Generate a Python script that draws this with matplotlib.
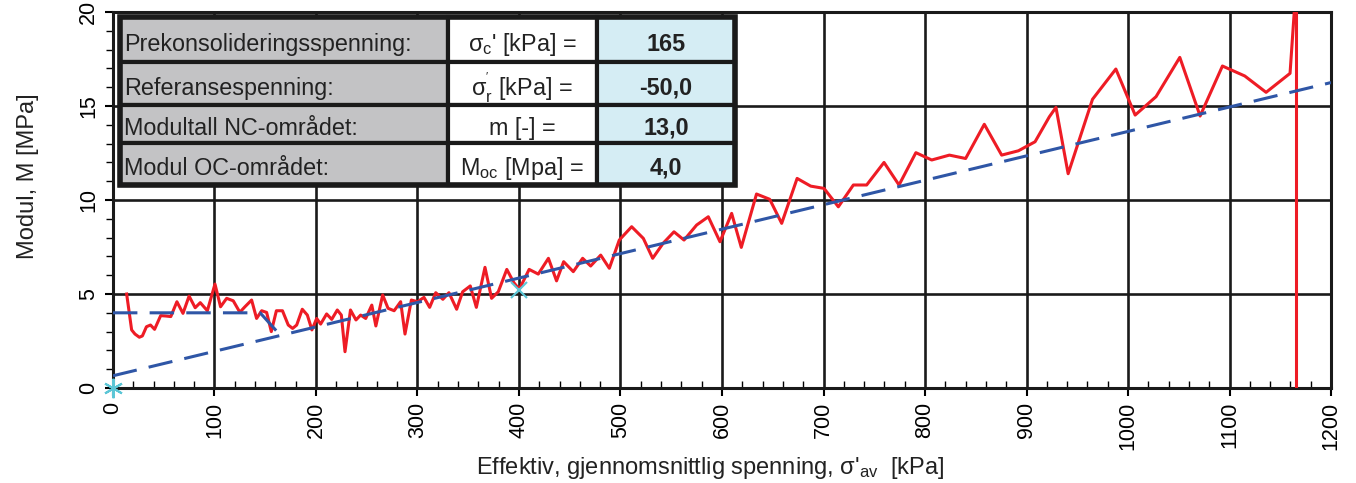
import matplotlib
matplotlib.use("Agg")
import matplotlib.pyplot as plt
from matplotlib.patches import Rectangle
from matplotlib.ticker import MultipleLocator

plt.rcParams['font.family'] = ['Liberation Sans', 'DejaVu Sans']
plt.rcParams['mathtext.default'] = 'regular'

# målte moduler (rød kurve)
sigma_av = [13.5, 18.4, 21.7, 26, 29, 33, 37, 41, 47, 52, 57, 63, 69, 75, 81, 86, 93,
            100.5, 106, 112, 118.5, 125, 130, 136.6, 141.5, 146.5, 151.4, 156, 161, 167,
            172.7, 177, 181, 186.5, 191.5, 196, 200.7, 204.6, 210.5, 215.5, 221, 225,
            228.6, 234, 239.4, 244, 249, 255, 259, 265.7, 271, 277, 283.4, 287.7, 294,
            300, 306.4, 312, 318, 325, 331, 338.6, 344.5, 352, 358, 366.5, 373, 379.6,
            388, 395, 400.3, 410, 419, 429, 437, 444, 453.5, 462.7, 470.6, 480.5, 489,
            498.8, 511, 522.5, 531.7, 542, 552.7, 562.6, 575, 586.5, 598, 609.5, 619,
            634, 647, 658.8, 674, 687.4, 700.5, 714.6, 729.4, 742.5, 759.6, 774.4, 791,
            806.6, 824, 840, 858.4, 875.5, 892, 908.4, 922.5, 929, 941, 965, 988, 1007,
            1027.6, 1051, 1071, 1093, 1115, 1136, 1159.6, 1165]
modul = [5.0, 3.09, 2.87, 2.7, 2.77, 3.26, 3.35, 3.12, 3.85, 3.83, 3.8, 4.59, 3.97, 4.89,
         4.27, 4.54, 4.11, 5.53, 4.32, 4.77, 4.64, 4.03, 4.32, 4.68, 3.7, 4.11, 4.02, 3.0,
         4.11, 4.11, 3.35, 3.17, 3.35, 4.19, 3.88, 3.09, 3.7, 3.4, 3.94, 3.65, 4.15, 3.88,
         1.93, 4.15, 3.62, 3.88, 3.7, 4.41, 3.3, 4.95, 4.24, 4.11, 4.59, 2.87, 4.68, 4.59,
         4.82, 4.29, 5.07, 4.72, 5.07, 4.19, 5.12, 5.43, 4.29, 6.42, 4.77, 5.12, 6.31, 5.6,
         5.25, 6.31, 6.06, 6.9, 5.7, 6.72, 6.19, 6.9, 6.49, 7.07, 6.37, 7.87, 8.58, 7.96,
         6.9, 7.7, 8.31, 7.87, 8.67, 9.11, 7.78, 9.29, 7.48, 10.32, 10.04, 8.76, 11.15,
         10.74, 10.62, 9.64, 10.8, 10.8, 12.0, 10.8, 12.52, 12.13, 12.39, 12.21, 14.03,
         12.39, 12.62, 13.1, 14.43, 14.93, 11.4, 15.36, 16.97, 14.52, 15.5, 17.59, 14.47,
         17.13, 16.6, 15.73, 16.74, 21.0]
sigma_vertikal = 1165.5

# tolket modell
sigma_c = 165
sigma_r = -50.0
m = 13.0
M_oc = 4.0
oc_x = [0, 145, 165]
oc_y = [4.0, 4.0, 2.8]
nc_x = [0, 1200]
nc_y = [m * (s - sigma_r) / 1000 for s in nc_x]
punkt_x = [0, 400]
punkt_y = [0, 5.2]

tabell_tekst = ['Prekonsolideringsspenning:', 'Referansespenning:',
                'Modultall NC-området:', 'Modul OC-området:']
tabell_symbol = [r"$\sigma_c$' [kPa] =", r"$\sigma^{'}_r$ [kPa] =",
                 'm [-] =', r'M$_{oc}$ [Mpa] =']
tabell_verdi = ['165', '-50,0', '13,0', '4,0']

fig = plt.figure(figsize=(13.56, 4.83), dpi=100)
ax = fig.add_axes([0.0833, 0.1967, 0.8983, 0.7783])

ax.plot(sigma_av, modul, color='#ee1c25', lw=2.2, zorder=4, clip_on=True)
ax.plot([sigma_vertikal, sigma_vertikal], [0, 20], color='#ee1c25', lw=2.2, zorder=4)
ax.plot(oc_x, oc_y, color='#2f56a6', lw=2.2, dashes=(8, 4), zorder=5)
ax.plot(nc_x, nc_y, color='#2f56a6', lw=2.2, dashes=(8, 4), zorder=5)
ax.plot(punkt_x[0], punkt_y[0], marker=(6, 2, 0), ms=14, mec='#5cc6d6', mew=1.5,
        ls='none', zorder=6, clip_on=False)
ax.plot(punkt_x[1], punkt_y[1], marker='x', ms=12, mec='#5cc6d6', mew=1.5,
        ls='none', zorder=6)

ax.set_xlim(0, 1200)
ax.set_ylim(0, 20)
ax.xaxis.set_major_locator(MultipleLocator(100))
ax.xaxis.set_minor_locator(MultipleLocator(20))
ax.yaxis.set_major_locator(MultipleLocator(5))
ax.yaxis.set_minor_locator(MultipleLocator(1))
ax.grid(True, which='major', color='#1a1a1a', lw=1.9)
ax.set_axisbelow(True)
for sp in ax.spines.values():
    sp.set_linewidth(2.2)
    sp.set_color('#1a1a1a')
ax.tick_params(axis='x', which='major', direction='out', length=6, width=1.5,
               labelsize=15.5, labelrotation=90, pad=4)
ax.tick_params(axis='x', which='minor', direction='in', length=5, width=1)
ax.tick_params(axis='y', which='major', direction='out', length=6, width=1.5,
               labelsize=15.5, labelrotation=90, pad=4)
ax.tick_params(axis='y', which='minor', direction='out', length=5, width=1)
for lab in ax.get_yticklabels():
    lab.set_va('center')

ax.set_xlabel(r"Effektiv, gjennomsnittlig spenning, σ'$_{av}$  [kPa]", fontsize=17,
              color='#222222')
ax.set_ylabel('Modul, M [MPa]', fontsize=17, color='#222222')
ax.xaxis.set_label_coords(0.49, -0.178)
ax.yaxis.set_label_coords(-0.061, 0.564)

# tabell øverst til venstre
kol = [0.006, 0.275, 0.397, 0.511]
rad = [0.987, 0.867, 0.753, 0.652, 0.540]
farger = ['#c3c3c5', 'white', '#d5edf4']
for i in range(4):
    for j in range(3):
        ax.add_patch(Rectangle((kol[j], rad[i + 1]), kol[j + 1] - kol[j], rad[i] - rad[i + 1],
                               transform=ax.transAxes, facecolor=farger[j],
                               edgecolor='#1a1a1a', lw=3, zorder=10, clip_on=False))
    yc = (rad[i] + rad[i + 1]) / 2 - 0.012
    ax.text(kol[0] + 0.003, yc, tabell_tekst[i], transform=ax.transAxes, fontsize=16.8,
            va='center', ha='left', zorder=11, color='#222222')
    ax.text((kol[1] + kol[2]) / 2, yc, tabell_symbol[i], transform=ax.transAxes,
            fontsize=16.8, va='center', ha='center', zorder=11, color='#222222')
    ax.text((kol[2] + kol[3]) / 2, yc, tabell_verdi[i], transform=ax.transAxes,
            fontsize=16.8, va='center', ha='center', zorder=11, fontweight='bold',
            color='#222222')
ax.add_patch(Rectangle((kol[0], rad[4]), kol[3] - kol[0], rad[0] - rad[4],
                       transform=ax.transAxes, fill=False, edgecolor='#1a1a1a', lw=4,
                       zorder=12, clip_on=False))

fig.savefig('out.png', dpi=100)
